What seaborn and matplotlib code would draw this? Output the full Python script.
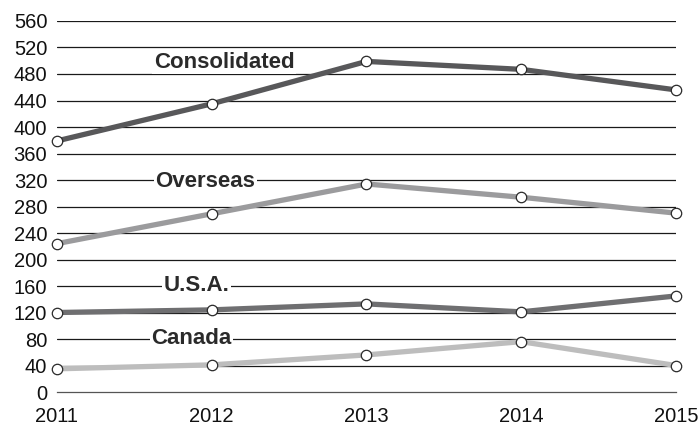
import matplotlib
matplotlib.use("Agg")
import matplotlib.pyplot as plt
import seaborn as sns
import pandas as pd

years = [2011, 2012, 2013, 2014, 2015]
consolidated = [379, 435, 499, 487, 456]
overseas = [224, 269, 314, 294, 270]
usa = [120, 124, 133, 121, 145]
canada = [35, 41, 56, 76, 40]

series_names = ["Consolidated", "Overseas", "U.S.A.", "Canada"]
series_values = [consolidated, overseas, usa, canada]
series_colors = ["#58585a", "#9b9b9d", "#6f6f71", "#bdbdbd"]
y_ticks = list(range(0, 561, 40))

# label anchor positions (x in years, y in data units)
label_x = [2012.08, 2011.96, 2011.9, 2011.87]
label_y = [498, 317, 161, 81]

rows = []
for name, vals in zip(series_names, series_values):
    for yr, v in zip(years, vals):
        rows.append({"Year": yr, "Value": v, "Series": name})
df = pd.DataFrame(rows)

sns.set_style("white")
plt.rcParams["font.family"] = ["Liberation Sans", "DejaVu Sans"]

fig = plt.figure(figsize=(7.0, 4.25), dpi=100)
ax = fig.add_axes([0.0814, 0.0776, 0.8843, 0.873])

for y in y_ticks[1:]:
    ax.axhline(y, color="#1a1a1a", lw=0.9, zorder=1)

sns.lineplot(
    data=df, x="Year", y="Value", hue="Series", hue_order=series_names,
    palette=dict(zip(series_names, series_colors)), linewidth=3.8,
    marker="o", markersize=7.5, markerfacecolor="white",
    markeredgecolor="#2a2a2a", markeredgewidth=0.9, legend=False,
    clip_on=False, ax=ax, zorder=3,
)

for name, lx, ly in zip(series_names, label_x, label_y):
    ax.text(lx, ly, name, ha="center", va="center", fontsize=16,
            fontweight="bold", color="#2a2a2a", zorder=2,
            bbox=dict(boxstyle="square,pad=0.06", fc="white", ec="none"))

ax.set_xlim(2011, 2015)
ax.set_ylim(0, 560)
ax.set_xticks(years)
ax.set_xticklabels([str(y) for y in years])
ax.set_yticks(y_ticks)
ax.set_xlabel("")
ax.set_ylabel("")
for s in ["top", "right", "left"]:
    ax.spines[s].set_visible(False)
ax.spines["bottom"].set_color("#555555")
ax.spines["bottom"].set_linewidth(0.9)
ax.tick_params(axis="x", direction="out", length=4, width=0.9,
               color="#555555", pad=7, labelsize=14.5)
ax.tick_params(axis="y", length=0, pad=7, labelsize=14.5)
for lbl in ax.get_xticklabels() + ax.get_yticklabels():
    lbl.set_color("#111111")

fig.savefig("out.png", dpi=100)
